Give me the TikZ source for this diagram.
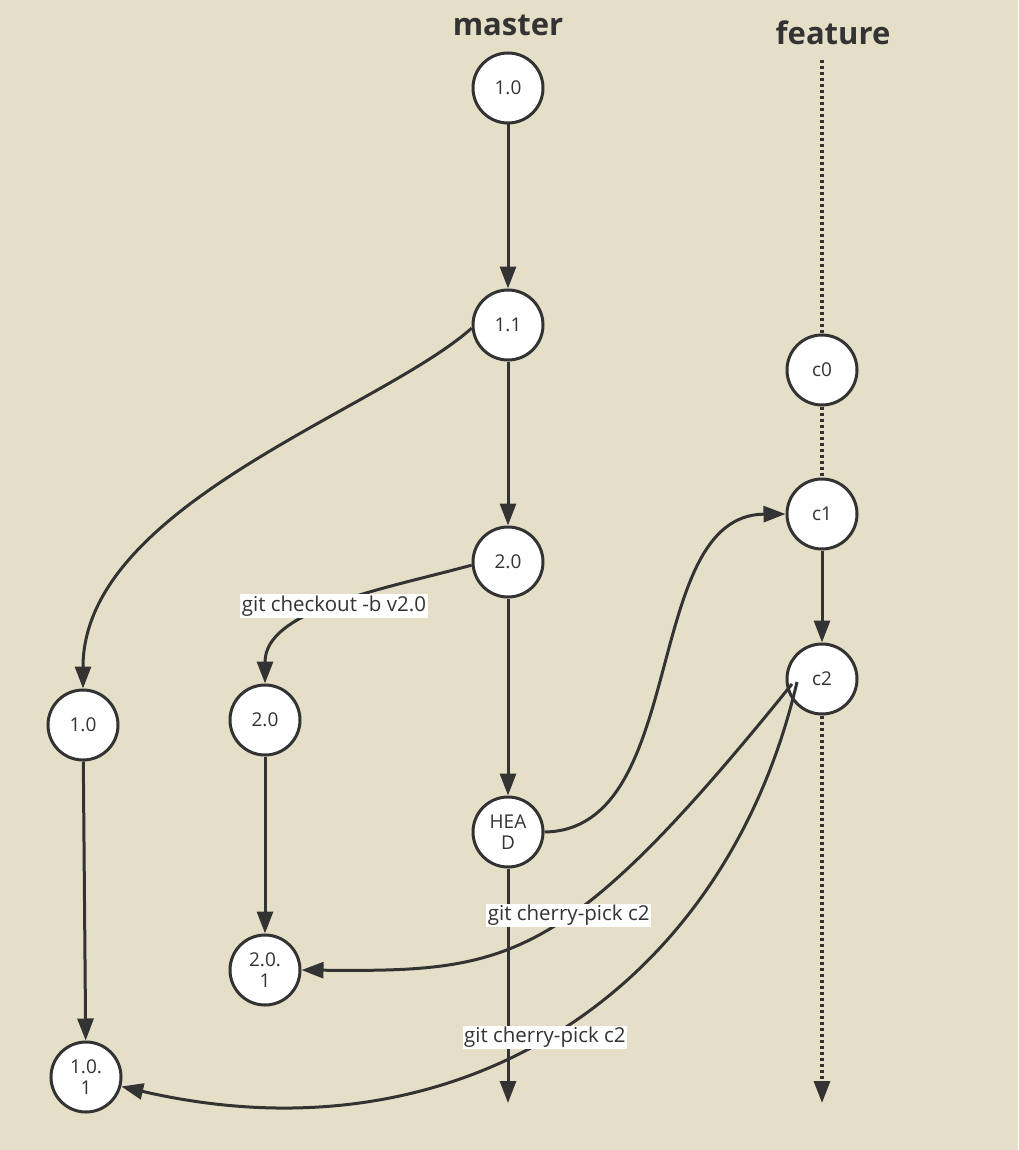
\documentclass[tikz,border=0pt]{standalone}
\usepackage{fontspec}
\setmainfont{Open Sans}
\usetikzlibrary{arrows.meta}
\usetikzlibrary{positioning}

\definecolor{paper}{HTML}{E6DFC8}
\definecolor{ink}{HTML}{333333}

\tikzset{
  commit/.style={circle, draw=ink, fill=white, line width=3pt,
    minimum size=70pt, inner sep=0pt, align=center, text=ink,
    font=\fontsize{19}{21}\selectfont},
  branch/.style={text=ink, font=\fontsize{31}{36}\selectfont\bfseries},
  op/.style={fill=white, inner sep=1.5pt, text=ink,
    font=\fontsize{20.5}{22}\selectfont},
  tip/.style={-{Triangle[length=22pt,width=16pt]}},
  link/.style={draw=ink, line width=3pt, tip},
  track/.style={draw=ink, line width=3.2pt, dash pattern=on 3pt off 3pt},
}

\begin{document}
\begin{tikzpicture}[x=1pt, y=-1pt, on grid]

    % Page
    \useasboundingbox (0,0) rectangle (1018,1150);
    \fill[paper] (0,0) rectangle (1018,1150);

    % master
    \node[commit]                     (m10)  at (508,88) {1.0};
    \node[branch, above=63pt of m10]  (master) {master};
    \node[commit, below=237pt of m10] (m11)  {1.1};
    \node[commit, below=237pt of m11] (m20)  {2.0};
    \node[commit, below=270pt of m20] (head) {HEA\\D};
    \coordinate (mend) at (508,1103);

    % feature
    \node[branch]                     (feature) at (833,33) {feature};
    \coordinate (ftop) at (822,60);
    \node[commit]                     (c0)   at (822,370) {c0};
    \node[commit, below=144pt of c0]  (c1)   {c1};
    \node[commit, below=165pt of c1]  (c2)   {c2};
    \coordinate (fend) at (822,1103);

    % release branches
    \node[commit]                     (b10)  at (83,725) {1.0};
    \node[commit]                     (b101) at (86,1077) {1.0.\\1};
    \node[commit]                     (b20)  at (265,720) {2.0};
    \node[commit, below=250pt of b20] (b201) {2.0.\\1};

    % history
    \draw[link] (m10) -- (m11);
    \draw[link] (m11) -- (m20);
    \draw[link] (m20) -- (head);
    \draw[link] (head) -- (mend);
    \draw[track] (ftop) -- (c0);
    \draw[track] (c0) -- (c1);
    \draw[link] (c1) -- (c2);
    \draw[track, tip] (c2) -- (fend);
    \draw[link] (b10) -- (b101);
    \draw[link] (b20) -- (b201);

    % branching and merging
    \draw[link] (m11.185) .. controls (380,410) and (83,505) .. (b10.north);
    \draw[link] (m20.185) .. controls (380,590) and (265,610)
        .. node[op] {git checkout -b v2.0} (b20.north);
    \draw[link] (head.east) .. controls (690,830) and (640,515) .. (c1.west);

    % cherry-picks
    \coordinate (pickA) at ([xshift=-30pt,yshift=-5pt]c2.center);
    \coordinate (pickB) at ([xshift=-25pt,yshift=-3pt]c2.center);
    \draw[link] (pickA) .. controls (565,965) and (510,972)
        .. node[op, pos=0.43] {git cherry-pick c2} (b201.east);
    \draw[link] (pickB) .. controls (725,990) and (460,1165)
        .. node[op, pos=0.52] {git cherry-pick c2} (b101.-15);

\end{tikzpicture}
\end{document}
